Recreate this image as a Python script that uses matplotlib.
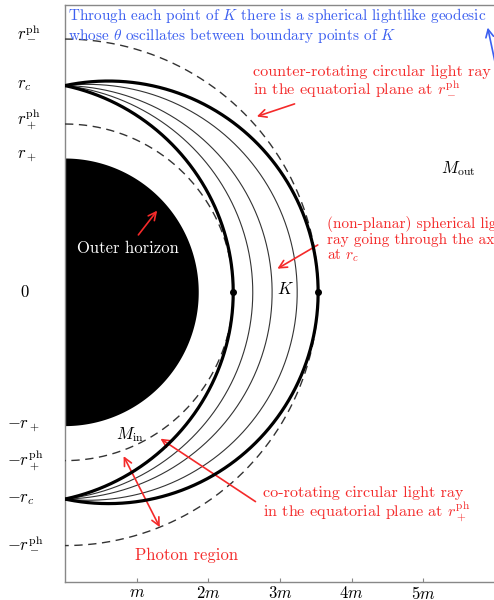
import numpy as np
import matplotlib
matplotlib.use("Agg")
import matplotlib.pyplot as plt

plt.rcParams["mathtext.fontset"] = "cm"
plt.rcParams["font.family"] = ["cmr10", "DejaVu Serif"]
plt.rcParams["axes.unicode_minus"] = False

# Kerr black hole, mass m and spin a (units of m)
m = 1.0
a = 0.5

# equatorial radii of the thin curves drawn inside the photon region
thin_equator_radii = [2.62, 2.89, 3.24]

x_tick_values = [1, 2, 3, 4, 5]
x_tick_labels = [r"$m$", r"$2m$", r"$3m$", r"$4m$", r"$5m$"]

# characteristic radii
r_plus = m + np.sqrt(m**2 - a**2)
r_ph_co = 2 * m * (1 + np.cos(2 / 3 * np.arccos(-a / m)))
r_ph_counter = 2 * m * (1 + np.cos(2 / 3 * np.arccos(a / m)))
rts = np.roots([1, -3 * m, a**2, a**2 * m])
rts = rts[np.isreal(rts)].real
r_c = rts[(rts > r_ph_co) & (rts < r_ph_counter)][0]


def cos2_boundary(r):
    """cos^2(theta) on the photon-region boundary at radius r."""
    delta = r**2 - 2 * m * r + a**2
    P = 2 * r * delta - (r - m) * r**2
    q = (r - m) * a**2
    A = q**2
    B = -2 * P * q + 4 * a**2 * r**2 * delta
    C = P**2 - 4 * a**2 * r**2 * delta
    c = (-B + np.sqrt(np.maximum(B**2 - 4 * A * C, 0))) / (2 * A)
    return np.clip(c, 0, 1)


# inner and outer branches of the boundary as functions of theta
r_in_s = np.linspace(r_ph_co, r_c, 4000)
r_out_s = np.linspace(r_c, r_ph_counter, 4000)
th_in_s = np.arccos(np.sqrt(cos2_boundary(r_in_s)))
th_out_s = np.arccos(np.sqrt(cos2_boundary(r_out_s)))
th_in_s[-1] = 0.0
th_out_s[0] = 0.0

theta = np.linspace(0, np.pi / 2, 800)
r_in = np.interp(theta, th_in_s[::-1], r_in_s[::-1])
r_out = np.interp(theta, th_out_s, r_out_s)

theta_full = np.concatenate([theta, np.pi - theta[::-1]])


def full(rr):
    return np.concatenate([rr, rr[::-1]])


def xy(rr, th):
    return rr * np.sin(th), rr * np.cos(th)


fig = plt.figure(figsize=(4.94, 6.0), dpi=100)
ax = fig.add_axes([65 / 494, 18 / 600, 430 / 494, 577 / 600])
ax.set_xlim(0, 6)
ax.set_ylim(-4.04, 4.007)

# outer horizon
th_h = np.linspace(0, np.pi, 400)
hx, hy = xy(np.full_like(th_h, r_plus), th_h)
ax.fill(np.r_[0, hx, 0], np.r_[r_plus, hy, -r_plus], color="black", lw=0, zorder=2)

# circular photon orbits (dashed)
for rr in (r_ph_co, r_ph_counter):
    cx, cy = xy(np.full_like(th_h, rr), th_h)
    ax.plot(cx, cy, color="#333333", lw=1.0, dashes=(6, 4), zorder=3)

# thin curves inside the photon region
for R in thin_equator_radii:
    t = (R - r_in[-1]) / (r_out[-1] - r_in[-1])
    rr = r_in + t * (r_out - r_in)
    px, py = xy(full(rr), theta_full)
    ax.plot(px, py, color="#333333", lw=0.8, zorder=3)

# boundary of the photon region
for rr in (r_in, r_out):
    px, py = xy(full(rr), theta_full)
    ax.plot(px, py, color="black", lw=2.3, zorder=4, solid_capstyle="round")
ax.plot([r_ph_co, r_ph_counter], [0, 0], "o", color="black", ms=4, zorder=5)

# axes styling
for s in ("left", "bottom", "top"):
    ax.spines[s].set_color("#888888")
    ax.spines[s].set_linewidth(1.0)
ax.spines["right"].set_visible(False)
ax.set_xticks(x_tick_values)
ax.set_xticklabels(x_tick_labels, fontsize=12)
ax.tick_params(axis="x", direction="in", length=3, color="#888888", pad=2)
ax.set_yticks([])

ylabels_pos = [
    (r_ph_counter, 0.11, r"$r_-^{\rm ph}$", -0.112),
    (r_c, 0.0, r"$r_c$", -0.112),
    (r_ph_co, 0.06, r"$r_+^{\rm ph}$", -0.112),
    (r_plus, 0.04, r"$r_+$", -0.112),
    (0.0, 0.0, r"$0$", -0.105),
    (-r_plus, 0.0, r"$-r_+$", -0.135),
    (-r_ph_co, 0.0, r"$-r_+^{\rm ph}$", -0.135),
    (-r_c, 0.0, r"$-r_c$", -0.135),
    (-r_ph_counter, 0.04, r"$-r_-^{\rm ph}$", -0.135),
]
ytrans = ax.get_yaxis_transform()
for yv, dy, lab, xf in ylabels_pos:
    ax.text(xf, yv + dy, lab, transform=ytrans, ha="left", va="center", fontsize=12,
            clip_on=False)

red = "#f42a2a"
blue = "#3c5ff0"
fs = 11
fs_red = 11.6

ax.text(0.04, 3.99, "Through each point of $K$ there is a spherical lightlike geodesic\n"
        r"whose $\theta$ oscillates between boundary points of $K$",
        ha="left", va="top", color=blue, fontsize=fs, linespacing=1.05)
ax.annotate("", xy=(5.89, 3.73), xytext=(6.03, 3.07),
            arrowprops=dict(arrowstyle="->", color=blue, lw=1.2, mutation_scale=14),
            annotation_clip=False)

ax.text(2.62, 2.93, "counter-rotating circular light ray\n"
        r"in the equatorial plane at $r_-^{\rm ph}$",
        ha="left", va="center", color=red, fontsize=fs_red, linespacing=1.05)
ax.annotate("", xy=(2.64, 2.44), xytext=(3.24, 2.64),
            arrowprops=dict(arrowstyle="->", color=red, lw=1.2, mutation_scale=14))

ax.text(5.48, 1.73, r"$M_{\rm out}$", ha="center", va="center", fontsize=12)

ax.text(3.66, 0.725, "(non-planar) spherical light\nray going through the axis\n"
        r"at $r_c$", ha="left", va="center", color=red, fontsize=fs,
        linespacing=1.05, clip_on=False)
ax.annotate("", xy=(2.93, 0.31), xytext=(3.56, 0.68),
            arrowprops=dict(arrowstyle="->", color=red, lw=1.2, mutation_scale=14))

ax.text(3.07, 0.04, r"$K$", ha="center", va="center", fontsize=12)

ax.text(0.88, 0.61, "Outer horizon", ha="center", va="center", color="white",
        fontsize=12, zorder=6)
ax.annotate("", xy=(1.31, 1.17), xytext=(1.00, 0.77),
            arrowprops=dict(arrowstyle="->", color=red, lw=1.2, mutation_scale=14),
            zorder=6)

ax.text(0.91, -1.98, r"$M_{\rm in}$", ha="center", va="center", fontsize=12)
ax.annotate("", xy=(0.80, -2.25), xytext=(1.34, -3.31),
            arrowprops=dict(arrowstyle="<->", color=red, lw=1.2, mutation_scale=14))
ax.annotate("", xy=(1.30, -2.02), xytext=(2.69, -2.94),
            arrowprops=dict(arrowstyle="->", color=red, lw=1.2, mutation_scale=14))
ax.text(2.76, -2.97, "co-rotating circular light ray\n"
        r"in the equatorial plane at $r_+^{\rm ph}$",
        ha="left", va="center", color=red, fontsize=fs_red, linespacing=1.05)

ax.text(1.69, -3.67, "Photon region", ha="center", va="center", color=red, fontsize=12)

fig.savefig("out.png", dpi=100)
